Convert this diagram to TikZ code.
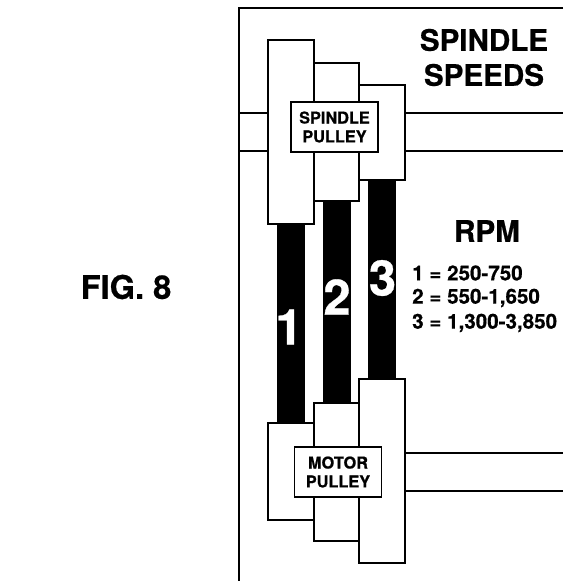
\documentclass[tikz,border=0pt]{standalone}
\usepackage{fontspec}
\setmainfont[BoldFeatures={FakeBold=0.6}]{TeX Gyre Heros}
\usetikzlibrary{positioning}
\definecolor{InkBlack}{RGB}{0,0,0}
\tikzset{
  pulley/.style={draw=InkBlack,fill=white,line width=1.9pt},
  shaft/.style={draw=InkBlack,line width=1.7pt},
  tag/.style={draw=InkBlack,fill=white,line width=1.9pt,font=\fontsize{16.3}{18.8}\selectfont\bfseries,
    align=center,minimum width=87pt,minimum height=50pt,inner sep=0pt},
  beltnum/.style={font=\fontsize{49}{49}\selectfont\bfseries,text=white,inner sep=0pt},
  heading/.style={font=\fontsize{29.6}{35}\selectfont\bfseries,text=InkBlack,align=center,inner sep=0pt},
  speed/.style={font=\fontsize{20.6}{25}\selectfont\bfseries,text=InkBlack,inner sep=0pt,anchor=west}
}
\begin{document}
\begin{tikzpicture}[x=1pt,y=-1pt]
        \useasboundingbox (0,0) rectangle (563,581);
        % Frame
        \draw[InkBlack,line width=2pt] (563,8) -- (239,8) -- (239,581);
        % Shafts
        \foreach \y in {113,151}{
          \draw[shaft] (239,\y) -- (268,\y);
          \draw[shaft] (405,\y) -- (563,\y);}
        \foreach \y in {453,491}{
          \draw[shaft] (405,\y) -- (563,\y);}
        % Belts
        \foreach \xa/\xb/\ya/\yb in {277/305/224/423,323/351/201/403,368/396/180/379}{
          \fill[InkBlack] (\xa,\ya) rectangle (\xb,\yb);}
        % Spindle steps
        \foreach \xa/\xb/\ya/\yb in {268/314/40/224,314/359/63/201,359/405/85/180}{
          \draw[pulley] (\xa,\ya) rectangle (\xb,\yb);}
        % Motor steps
        \foreach \xa/\xb/\ya/\yb in {268/314/423/520,314/359/403/541,359/405/379/563}{
          \draw[pulley] (\xa,\ya) rectangle (\xb,\yb);}
        \node[tag] (spindletag) at (334.5,127) {SPINDLE\\PULLEY};
        \node[tag] (motortag) at (338,472) {MOTOR\\PULLEY};
        % Belt numbers
        \node[beltnum] (numone) at (289,327) {1};
        \node[beltnum] (numtwo) at (337,297) {2};
        \node[beltnum] (numthree) at (382.5,278) {3};
        % Text
        \node[heading] (title) at (484,57.5) {SPINDLE\\SPEEDS};
        \node[heading] (rpm) at (487,231) {RPM};
        \node[speed] (speedone) at (412,273) {1 = 250-750};
        \node[speed] (speedtwo) at (412,298) {2 = 550-1,650};
        \node[speed] (speedthree) at (412,323) {3 = 1,300-3,850};
        \node[heading,font=\fontsize{32.6}{35}\selectfont\bfseries] (fig) at (126,287) {FIG. 8};
      \end{tikzpicture}
\end{document}
